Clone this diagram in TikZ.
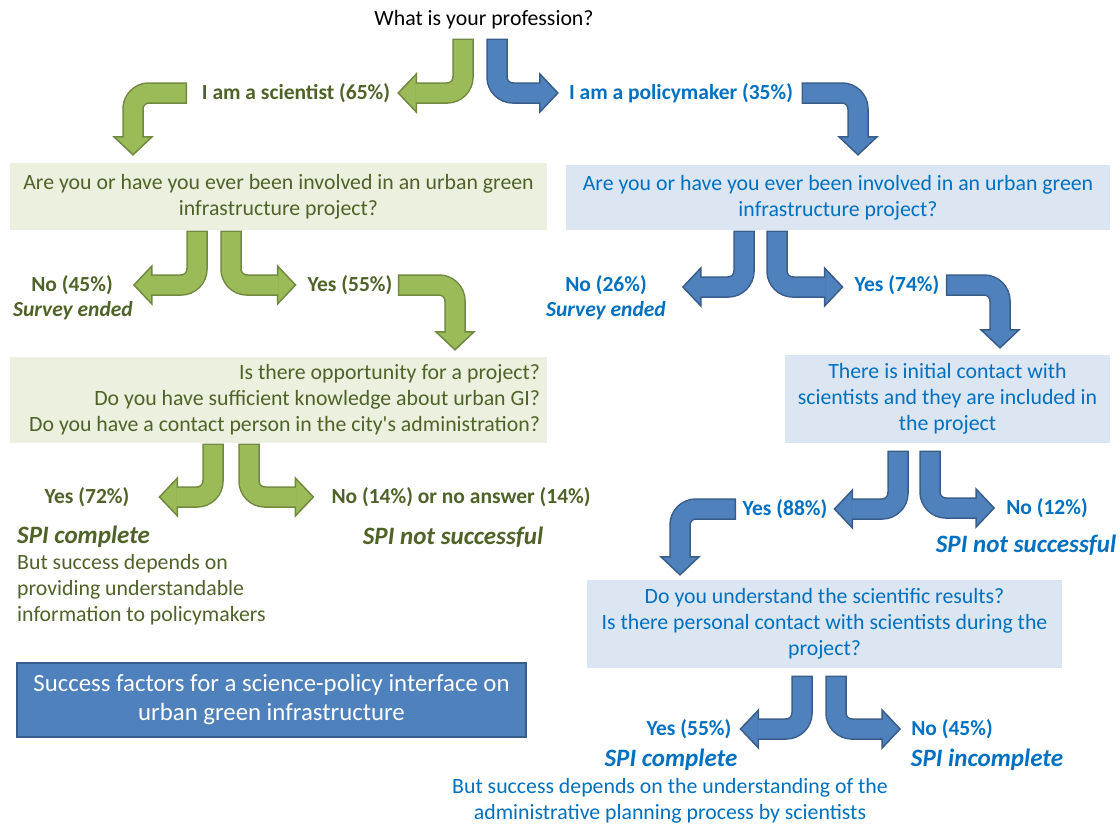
\documentclass[tikz,border=0pt]{standalone}
\usepackage{fontspec}
\setmainfont{Carlito}
\usetikzlibrary{calc}

\definecolor{leaf}{HTML}{9BBB59}
\definecolor{leafrim}{HTML}{71893F}
\definecolor{leafink}{HTML}{4F6228}
\definecolor{leafbg}{HTML}{EBF1DE}
\definecolor{sky}{HTML}{4F81BD}
\definecolor{skyrim}{HTML}{385D8A}
\definecolor{skyink}{HTML}{0070C0}
\definecolor{skybg}{HTML}{DCE6F2}

\tikzset{
    every node/.style={inner sep=0pt},
    txt/.style={font=\fontsize{21.8}{26}\selectfont},
    ans/.style={font=\fontsize{21.5}{26}\selectfont\bfseries},
    ended/.style={font=\fontsize{21.5}{26}\selectfont\bfseries\itshape},
    verdict/.style={font=\fontsize{25}{30}\selectfont\bfseries\itshape},
    leafbox/.style={txt, fill=leafbg, text=leafink, minimum width=537pt},
    skybox/.style={txt, fill=skybg, text=skyink},
    titlebox/.style={font=\fontsize{24.8}{29}\selectfont, fill=sky, draw=skyrim,
        line width=2pt, text=white, align=center, minimum width=509pt, minimum height=74pt},
    % bent block arrows: outline, head, body
    leaf rim/.style={draw=leafrim, line width=21.5pt, rounded corners=16pt, shorten <=-1.5pt},
    leaf body/.style={draw=leaf, line width=18.5pt, rounded corners=16pt},
    leaf head/.style={fill=leaf, draw=leafrim, line width=1.5pt},
    sky rim/.style={draw=skyrim, line width=21.5pt, rounded corners=16pt, shorten <=-1.5pt},
    sky body/.style={draw=sky, line width=18.5pt, rounded corners=16pt},
    sky head/.style={fill=sky, draw=skyrim, line width=1.5pt},
}

% \bentarrow{colour}{start}{|- or -|}{tip}
\newcommand{\bentarrow}[4]{%
    \coordinate (bas) at #2;
    \coordinate (bae) at #4;
    \coordinate (bac) at (bas #3 bae);
    \coordinate (bab) at ($(bae)!18pt!(bac)$);
    \draw[#1 rim] (bas) -- (bac) -- (bab);
    \filldraw[#1 head] ($(bab)!19pt!90:(bae)$) -- (bae) -- ($(bab)!19pt!-90:(bae)$) -- cycle;
    \draw[#1 body] (bas) -- (bac) -- ($(bab)!1pt!(bae)$);
}

\begin{document}
\begin{tikzpicture}[x=1pt, y=-1pt]
    \useasboundingbox (0,0) rectangle (1120,825);

    % question
    \node[txt] (prof) at (484,20) {What is your profession?};
    \node[ans, text=leafink] (sci) at (296,93) {I am a scientist (65\%)};
    \node[ans, text=skyink] (pol) at (681,93) {I am a policymaker (35\%)};

    % scientist branch
    \node[leafbox, minimum height=67pt, align=center] (gq1) at (278.5,196.5)
        {Are you or have you ever been involved in an urban green\\infrastructure project?};
    \node[ans, text=leafink] (gno1) at (72,285) {No (45\%)};
    \node[ended, text=leafink] (gend1) at (73,311) {Survey ended};
    \node[ans, text=leafink] (gyes1) at (350,285) {Yes (55\%)};
    \node[leafbox, minimum height=86pt] (gq2) at (278.5,400) {};
    \node[txt, text=leafink, align=right, anchor=east] (gq2t) at ([xshift=-7pt]gq2.east)
        {Is there opportunity for a project?\\
         Do you have sufficient knowledge about urban GI?\\
         Do you have a contact person in the city\textquotesingle s administration?};
    \node[ans, text=leafink] (gyes2) at (87,497) {Yes (72\%)};
    \node[ans, text=leafink] (gno2) at (461,497) {No (14\%) or no answer (14\%)};
    \node[verdict, text=leafink, anchor=west] (gspi1) at (17,537) {SPI complete};
    \node[verdict, text=leafink] (gspi2) at (453,537) {SPI not successful};
    \node[txt, text=leafink, align=left, anchor=west] (gnote) at (17,590)
        {But success depends on\\providing understandable\\information to policymakers};

    \node[titlebox] (title) at (271.5,700)
        {Success factors for a science-policy interface on\\urban green infrastructure};

    % policymaker branch
    \node[skybox, minimum width=544pt, minimum height=65pt, align=center] (bq1) at (838,197.5)
        {Are you or have you ever been involved in an urban green\\infrastructure project?};
    \node[ans, text=skyink] (bno1) at (606,285) {No (26\%)};
    \node[ended, text=skyink] (bend1) at (606,311) {Survey ended};
    \node[ans, text=skyink] (byes1) at (897,285) {Yes (74\%)};
    \node[skybox, minimum width=325pt, minimum height=88pt, align=center] (bq2) at (947.5,399)
        {There is initial contact with\\scientists and they are included in\\the project};
    \node[ans, text=skyink] (byes2) at (785,509) {Yes (88\%)};
    \node[ans, text=skyink] (bno2) at (1047,508) {No (12\%)};
    \node[verdict, text=skyink] (bspi1) at (1026,545) {SPI not successful};
    \node[skybox, minimum width=475pt, minimum height=88pt, align=center] (bq3) at (824.5,624)
        {Do you understand the scientific results?\\
         Is there personal contact with scientists during the\\project?};
    \node[ans, text=skyink] (byes3) at (689,729) {Yes (55\%)};
    \node[ans, text=skyink] (bno3) at (952,729) {No (45\%)};
    \node[verdict, text=skyink] (bspi2) at (671,760) {SPI complete};
    \node[verdict, text=skyink] (bspi3) at (987,760) {SPI incomplete};
    \node[txt, text=skyink, align=center] (bnote) at (670,801)
        {But success depends on the understanding of the\\administrative planning process by scientists};

    % arrows
    \bentarrow{leaf}{([shift={(-21,20)}]prof.center)}{|-}{([xshift=8pt]sci.east)}
    \bentarrow{sky}{([shift={(13,20)}]prof.center)}{|-}{([xshift=-11pt]pol.west)}
    \bentarrow{leaf}{([xshift=-16pt]sci.west)}{-|}{([shift={(-145.5,-8)}]gq1.north)}
    \bentarrow{sky}{([xshift=10pt]pol.east)}{-|}{([shift={(20,-10)}]bq1.north)}

    \bentarrow{leaf}{([shift={(-81.5,2)}]gq1.south)}{|-}{([xshift=21pt]gno1.east)}
    \bentarrow{leaf}{([shift={(-47.5,2)}]gq1.south)}{|-}{([xshift=-12pt]gyes1.west)}
    \bentarrow{leaf}{([xshift=7pt]gyes1.east)}{-|}{([shift={(176.5,-7)}]gq2.north)}
    \bentarrow{leaf}{([shift={(-65.5,2)}]gq2.south)}{|-}{([xshift=30pt]gyes2.east)}
    \bentarrow{leaf}{([shift={(-29.5,2)}]gq2.south)}{|-}{([xshift=-18pt]gno2.west)}

    \bentarrow{sky}{([shift={(-94,2)}]bq1.south)}{|-}{([shift={(36,2)}]bno1.east)}
    \bentarrow{sky}{([shift={(-61,2)}]bq1.south)}{|-}{([shift={(-12,2)}]byes1.west)}
    \bentarrow{sky}{([xshift=8pt]byes1.east)}{-|}{([shift={(52.5,-7)}]bq2.north)}
    \bentarrow{sky}{([shift={(-49.5,9)}]bq2.south)}{|-}{([xshift=7pt]byes2.east)}
    \bentarrow{sky}{([shift={(-17.5,9)}]bq2.south)}{|-}{([xshift=-12pt]bno2.west)}
    \bentarrow{sky}{([xshift=-8pt]byes2.west)}{-|}{([shift={(-144.5,-5)}]bq3.north)}
    \bentarrow{sky}{([shift={(-22.5,9)}]bq3.south)}{|-}{([xshift=9pt]byes3.east)}
    \bentarrow{sky}{([shift={(11.5,9)}]bq3.south)}{|-}{([xshift=-11pt]bno3.west)}
\end{tikzpicture}
\end{document}
